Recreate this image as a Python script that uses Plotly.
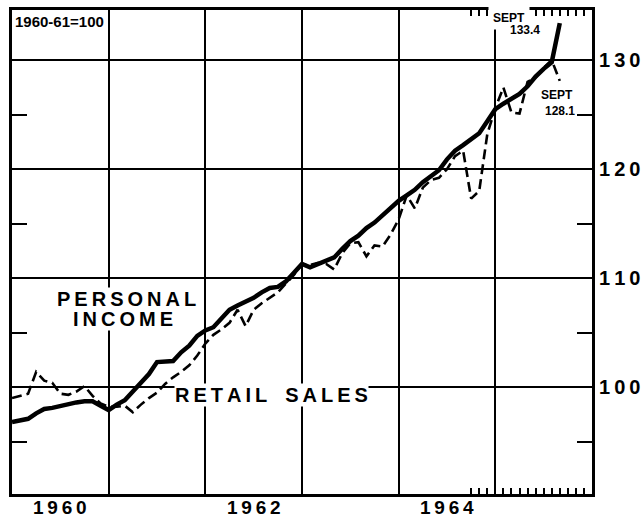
import plotly.graph_objects as go

# ---- data (monthly, Jan 1960 .. Sep 1965), index 1960-61 = 100 ----
start_year = 1960
personal_income = [
    96.8, 96.9, 97.1, 97.6, 98.0, 98.1, 98.3, 98.4, 98.6, 98.7, 98.7, 98.3,
    97.9, 98.4, 98.8, 99.6, 100.4, 101.2, 102.3, 102.3, 102.4, 103.2, 103.8, 104.7,
    105.2, 105.5, 106.3, 107.1, 107.5, 107.8, 108.2, 108.7, 109.1, 109.2, 109.7, 110.5,
    111.3, 111.0, 111.3, 111.5, 111.9, 112.7, 113.4, 113.9, 114.6, 115.1, 115.8, 116.4,
    117.1, 117.6, 118.1, 118.8, 119.4, 119.9, 120.9, 121.7, 122.2, 122.7, 123.3, 124.4,
    125.5, 126.0, 126.4, 126.9, 127.6, 128.5, 129.2, 129.8, 133.4,
]
retail_sales = [
    99.0, 99.2, 99.4, 101.4, 100.6, 100.4, 99.4, 99.3, 99.6, 100.1, 99.2, 98.5,
    98.2, 98.2, 98.3, 97.7, 98.4, 99.0, 99.5, 100.3, 100.9, 101.4, 102.0, 102.9,
    104.0, 104.8, 105.3, 105.9, 107.1, 105.6, 107.1, 107.7, 108.2, 108.7, 109.5, 110.3,
    111.3, 111.2, 111.4, 111.3, 110.8, 112.3, 113.2, 113.3, 112.0, 113.0, 112.9, 114.0,
    115.4, 117.6, 116.4, 118.3, 119.0, 119.2, 120.0, 121.2, 121.7, 117.3, 118.0, 123.2,
    125.6, 127.5, 125.2, 125.1, 128.0, 128.4, 129.3, 130.0, 128.1,
]
year_labels = ["1960", "1962", "1964"]
year_label_pos = [1960.5, 1962.5, 1964.5]
year_grid = [1961, 1962, 1963, 1964, 1965]
y_labels = ["100", "110", "120", "130"]
y_label_vals = [100, 110, 120, 130]
y_minor_vals = [95, 105, 115, 125]
month_ticks = list(range(57, 72))

x_pi = [start_year + i / 12 for i in range(len(personal_income))]
x_rs = [start_year + i / 12 for i in range(len(retail_sales))]

FONT = "Liberation Sans, Arial, sans-serif"
TS = "\u2009"


def spaced(s):
    return TS.join("\u2002" if c == " " else c for c in s)


fig = go.Figure()
fig.add_trace(go.Scatter(x=x_pi, y=personal_income, mode="lines",
                         line=dict(color="black", width=4.5),
                         hoverinfo="skip", showlegend=False))
fig.add_trace(go.Scatter(x=x_rs, y=retail_sales, mode="lines",
                         line=dict(color="black", width=2.6, dash="10px,5px"),
                         hoverinfo="skip", showlegend=False))

ann_font = dict(family=FONT, size=20, color="black")
annotations = [
    dict(x=1961.18, y=108.07, text="<b>" + spaced("PERSONAL") + "</b>"),
    dict(x=1961.15, y=106.24, text="<b>" + spaced("INCOME") + "</b>"),
    dict(x=1962.68, y=99.25, text="<b>" + spaced("RETAIL SALES") + "</b>"),
]
for a in annotations:
    a.update(xref="x", yref="y", showarrow=False, xanchor="center", yanchor="middle",
             font=ann_font, bgcolor="white", borderpad=0)

# year labels under the axis
for pos, lab in zip(year_label_pos, year_labels):
    annotations.append(dict(x=pos, y=0, xref="x", yref="paper", xanchor="center",
                            yanchor="top", yshift=-1, showarrow=False,
                            text="<b>" + spaced(lab) + "</b>",
                            font=dict(family=FONT, size=19, color="black")))

small = dict(family=FONT, size=12, color="black")
annotations += [
    dict(x=0, y=1, xref="paper", yref="paper", xanchor="left", yanchor="top",
         xshift=1, yshift=-1, text="<b>1960-61=100</b>", showarrow=False,
         font=dict(family=FONT, size=15, color="black")),
    dict(x=1965.14, y=133.85, xref="x", yref="y", text="<b>SEPT</b>", showarrow=False,
         font=small, bgcolor="white", borderpad=4),
    dict(x=1965.305, y=132.75, xref="x", yref="y", text="<b>133.4</b>", showarrow=False,
         font=small, borderpad=0),
    dict(x=1965.64, y=126.8, xref="x", yref="y", text="<b>SEPT</b>", showarrow=False,
         font=small, borderpad=0),
    dict(x=1965.672, y=125.32, xref="x", yref="y", text="<b>128.1</b>", showarrow=False,
         font=small, borderpad=0),
]

fig.update_layout(
    width=642, height=520,
    margin=dict(l=12, r=50, t=10, b=26, autoexpand=False),
    paper_bgcolor="white", plot_bgcolor="white",
    showlegend=False,
    xaxis=dict(
        range=[1960, 1966], tickmode="array", tickvals=year_grid,
        showticklabels=False, ticks="", showgrid=True, gridcolor="black",
        gridwidth=1.5, zeroline=False, automargin=False,
        showline=True, linewidth=3, linecolor="black", mirror="ticks",
        minor=dict(tickmode="array", tickvals=[start_year + m / 12 for m in month_ticks],
                   ticks="inside", ticklen=6, tickwidth=1.5, tickcolor="black",
                   showgrid=False),
    ),
    yaxis=dict(
        range=[90.2, 134.6], side="right", tickmode="array", tickvals=y_label_vals,
        ticktext=["<b>" + spaced(t) + "</b>" for t in y_labels],
        tickfont=dict(family=FONT, size=20, color="black"),
        ticks="", showgrid=True, gridcolor="black", gridwidth=1.5, zeroline=False,
        showline=True, linewidth=3, linecolor="black", mirror="ticks",
        automargin=False, ticklabelstandoff=0,
        minor=dict(tickmode="array", tickvals=y_minor_vals, ticks="inside",
                   ticklen=15, tickwidth=1.5, tickcolor="black", showgrid=False),
    ),
    annotations=annotations,
)

fig.write_html(
    "out.html",
    config={"displayModeBar": False},
    post_script="document.body.style.margin='0';document.body.style.overflow='hidden';",
)
